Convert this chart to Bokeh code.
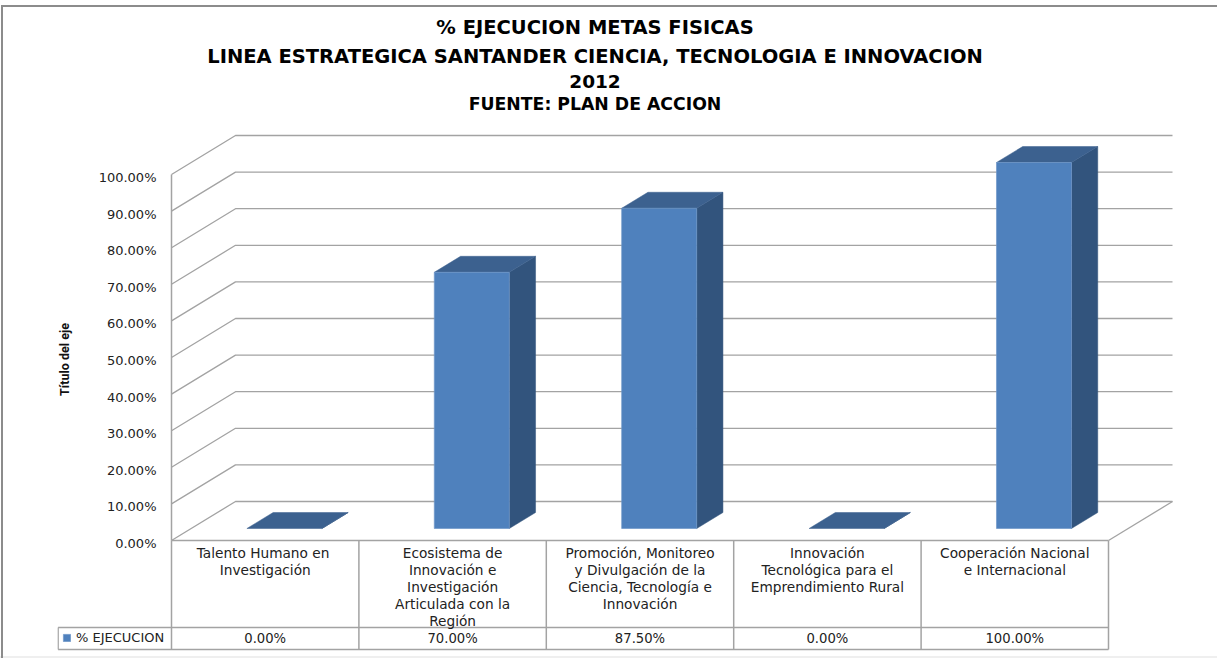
from bokeh.plotting import figure
from bokeh.embed import file_html
from bokeh.resources import INLINE
from bokeh.core.properties import value
from bokeh.models import (Range1d, FixedTicker, NumeralTickFormatter, Legend, LegendItem, LinearAxis)
import math

# ---- data
categories = ["Talento Humano  en\nInvestigación",
              "Ecosistema de\nInnovación e\nInvestigación\nArticulada con la\nRegión",
              "Promoción, Monitoreo\ny Divulgación de la\nCiencia, Tecnología e\nInnovación",
              "Innovación\nTecnológica para el\nEmprendimiento Rural",
              "Cooperación Nacional\ne Internacional"]
series_name = "% EJECUCION"
ejecucion = [0.0, 0.70, 0.875, 0.0, 1.0]
y_ticks = [0.0, 0.1, 0.2, 0.3, 0.4, 0.5, 0.6, 0.7, 0.8, 0.9, 1.0]
titles = ["% EJECUCION METAS FISICAS",
          "LINEA ESTRATEGICA SANTANDER CIENCIA, TECNOLOGIA E INNOVACION",
          "2012",
          "FUENTE: PLAN DE ACCION"]
axis_title = "Título del eje"

# ---- layout (pixels of the picture)
W, H = 1217, 658
FRAME_L = 57
LEFT, COL = 171.0, 187.4
Y0, YH = 540.0, 366.0
DEPTH_X, DEPTH_Y = 64.0, 39.0
FONT = "DejaVu Sans"
GRID = "#a3a3a3"
FRONT, SIDE, TOP = "#4f81bd", "#32547d", "#3c618f"
BORDER = "linear-gradient(#8c8c8c,#8c8c8c)"

def X(px): return (px - LEFT) / COL
def Y(px): return (Y0 - px) / YH
DX = DEPTH_X / COL          # depth offset in x units
DY = DEPTH_Y / YH           # depth offset in y units

p = figure(width=W, height=H, output_backend="svg", toolbar_location=None,
           x_range=Range1d(X(FRAME_L), X(W)), y_range=Range1d(Y(H), Y(0)),
           min_border_left=FRAME_L, min_border_right=0, min_border_top=0, min_border_bottom=0,
           outline_line_color=None, x_axis_type=None, y_axis_type=None,
           margin=(0, 0, 0, 0), border_fill_alpha=0, background_fill_alpha=0,
           styles={"background": f"{BORDER} 1px 5px / 1216px 2px no-repeat, "
                                 f"{BORDER} 1px 5px / 2px 653px no-repeat, "
                                 "linear-gradient(#efefef,#efefef) 0 656px / 1217px 2px no-repeat"})
p.xgrid.visible = False
p.ygrid.visible = False

# value axis: labels sit a little under their gridlines, as in the reference
LABEL_SHIFT = 3 / YH
p.extra_y_ranges = {"ticks": Range1d(Y(H) + LABEL_SHIFT, Y(0) + LABEL_SHIFT)}
yax = LinearAxis(y_range_name="ticks", ticker=FixedTicker(ticks=y_ticks),
                 formatter=NumeralTickFormatter(format="0.00%"),
                 fixed_location=X(156), major_tick_line_color=None, minor_tick_line_color=None,
                 axis_line_color=None, major_tick_out=0, major_tick_in=0, minor_tick_out=0,
                 major_label_standoff=0, major_label_text_font=FONT,
                 major_label_text_font_size="13px", major_label_text_color="#222222")
p.add_layout(yax, "left")

# walls
for t in y_ticks:
    p.line([0, DX, 5 + DX], [t, t + DY, t + DY], line_color=GRID, line_width=1.3)
p.line([0, 0], [0, 1], line_color=GRID, line_width=1.5)
# floor
p.line([5, 5 + DX], [0, DY], line_color=GRID, line_width=1.3)

# data table
n = len(categories)
row1, row2 = Y(627), Y(649)
cell_l = X(FRAME_L + 0.6)
for i in range(n + 1):
    p.line([i, i], [0, row2], line_color=GRID, line_width=1.5)
p.line([0, n], [0, 0], line_color=GRID, line_width=1.5)
for yy in (row1, row2):
    p.line([cell_l, n], [yy, yy], line_color=GRID, line_width=1.5)
p.line([cell_l, cell_l], [row1, row2], line_color=GRID, line_width=1.5)

# bars (pseudo-3D)
BAR_W = 75 / COL
D0, D1 = 12 / DEPTH_Y, 28 / DEPTH_Y     # depth fractions occupied by the bars
legend_r = None
for i, v in enumerate(ejecucion):
    x0 = i + 0.5 - BAR_W / 2 + D0 * DX - 0.5 / COL
    x1 = x0 + BAR_W
    b = D0 * DY
    ox, oy = (D1 - D0) * DX, (D1 - D0) * DY
    p.patch([x1, x1 + ox, x1 + ox, x1], [b, b + oy, b + oy + v, b + v],
            fill_color=SIDE, line_color=SIDE, line_width=0.5)
    p.patch([x0, x1, x1 + ox, x0 + ox], [b + v, b + v, b + v + oy, b + v + oy],
            fill_color=TOP, line_color=TOP, line_width=0.5)
    if v > 0:
        legend_r = p.quad(left=x0, right=x1, bottom=b, top=b + v,
                          fill_color=FRONT, line_color="#6f97c8", line_width=0.7)

# category labels and values
LINE_GAP = 17.0
for i, c in enumerate(categories):
    for j, line in enumerate(c.split("\n")):
        p.text([i + 0.5], [Y(552 + j * LINE_GAP)], text=[line], text_align="center",
               text_baseline="middle", text_font=value(FONT), text_font_size="13.7px",
               text_color="#222222")
    p.text([i + 0.5], [Y(638)], text=[f"{ejecucion[i] * 100:.2f}%"], text_align="center",
           text_baseline="middle", text_font=value(FONT), text_font_size="13.2px",
           text_color="#222222")

# titles
for t, py, fs in zip(titles, (27, 56, 81, 103), ("19.5px", "19.5px", "18.5px", "17.3px")):
    p.text([X(594.5)], [Y(py)], text=[t], text_align="center", text_baseline="middle",
           text_font=value(FONT), text_font_size=fs, text_font_style="bold",
           text_color="#000000")

# axis title
p.text([X(63.5)], [Y(359)], text=[axis_title], angle=math.pi / 2, text_align="center",
       text_baseline="middle", text_font=value("Roboto"),
       text_font_size="12.5px", text_font_style="bold", text_color="#111111")

# legend cell of the data table
leg = Legend(items=[LegendItem(label=series_name, renderers=[legend_r])],
             location=(5, 13), margin=0, padding=5, spacing=0,
             glyph_width=9, glyph_height=9, label_standoff=5, label_height=12,
             label_text_font=FONT, label_text_font_size="13px", label_text_color="#222222",
             border_line_color=None, background_fill_alpha=0)
p.add_layout(leg, "center")

open("out.html", "w").write(file_html(p, INLINE))
